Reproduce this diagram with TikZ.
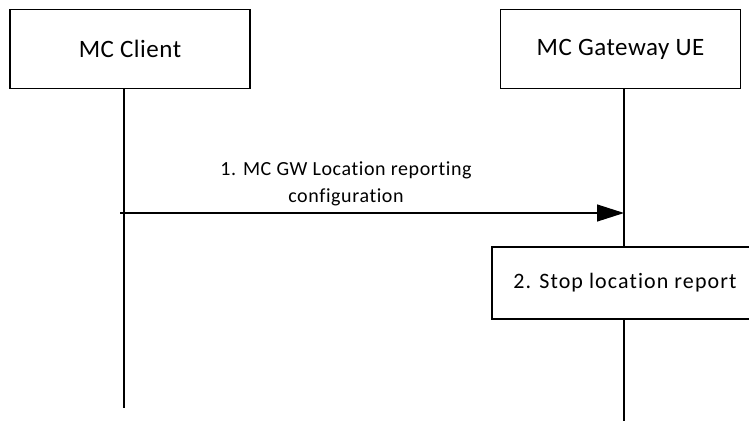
\documentclass[tikz,border=0pt]{standalone}
\usepackage{fontspec}
\setmainfont{Carlito}[Ligatures=NoCommon]
\newfontfamily\titlefont{Carlito}[Ligatures=NoCommon, LetterSpace=2]
\newfontfamily\msgfont{Carlito}[Ligatures=NoCommon, LetterSpace=3]
\newfontfamily\stopfont{Carlito}[Ligatures=NoCommon, LetterSpace=5]
\usetikzlibrary{arrows.meta}
\tikzset{
  entity/.style={draw, line width=1.6pt, fill=white, minimum width=240pt, minimum height=79pt, inner sep=0pt, font=\titlefont\fontsize{25}{30}\selectfont},
  lifeline/.style={line width=2pt},
  msg/.style={line width=1.3pt, -{Triangle[length=27pt,width=17pt]}},
  msglabel/.style={align=center, font=\msgfont\fontsize{20}{27}\selectfont, inner sep=0pt},
  action/.style={draw, line width=1.6pt, fill=white, minimum width=266pt, minimum height=72pt, inner sep=0pt, font=\stopfont\fontsize{22}{26}\selectfont}
}
\begin{document}
\begin{tikzpicture}[x=1pt,y=-1pt]
\useasboundingbox (0,0) rectangle (749,421);
\node[entity] (client) at (130,49) {MC Client};
\node[entity] (gw) at (620.5,49) {MC Gateway UE};
\coordinate (ctop) at (124,88);
\coordinate (cbot) at (124,408);
\coordinate (gtop) at (624,88);
\coordinate (gbot) at (624,421);
\draw[lifeline] (ctop) -- (cbot);
\draw[lifeline] (gtop) -- (gbot);
\coordinate (m1s) at (120,213);
\coordinate (m1e) at (624,213);
\draw[msg] (m1s) -- (m1e);
\node[msglabel] (m1l) at (346,184) {1. MC GW Location reporting\\configuration};
\node[action] (stop) at (625,283) {2. Stop location report};
\end{tikzpicture}
\end{document}
